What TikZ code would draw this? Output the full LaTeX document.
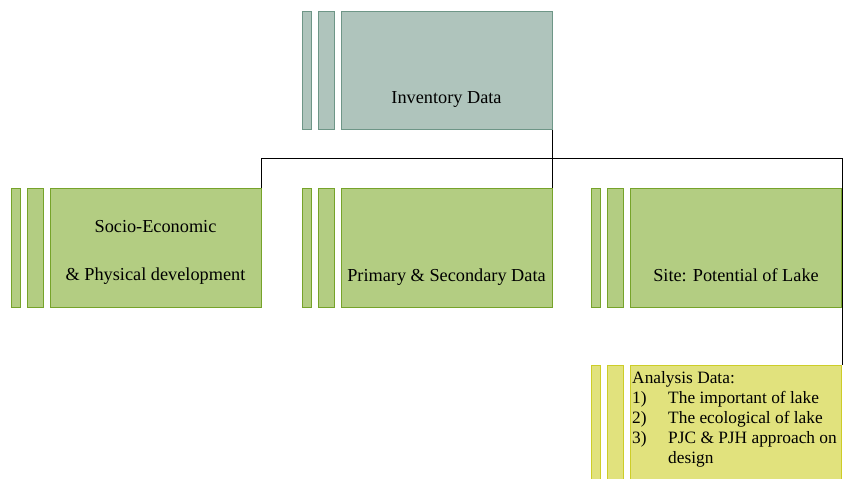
\documentclass[tikz,border=0pt]{standalone}
\usepackage{fontspec}
\setmainfont{Liberation Serif}
\usepackage{tikz}
\usetikzlibrary{positioning}
\definecolor{invfill}{RGB}{175,196,188}
\definecolor{invline}{RGB}{110,150,135}
\definecolor{grnfill}{RGB}{179,205,130}
\definecolor{grnline}{RGB}{118,163,42}
\definecolor{ylwfill}{RGB}{225,226,125}
\definecolor{ylwline}{RGB}{205,205,40}

\tikzset{
  card/.style={draw, line width=0.8pt, minimum width=6.33cm, minimum height=3.55cm, inner sep=0pt},
  strip/.style={draw, line width=0.8pt, minimum height=3.55cm, inner sep=0pt},
  boxtext/.style={font=\fontsize{15.6}{18}\selectfont, anchor=base, inner sep=0pt},
  listtext/.style={font=\fontsize{14.8}{17}\selectfont, anchor=base west, inner sep=0pt},
  wire/.style={draw=black, line width=0.8pt},
}

\begin{document}
\begin{tikzpicture}[x=0.03cm,y=-0.03cm]
  \useasboundingbox (0,0) rectangle (843,479);
  % main cards
  \node[card, fill=invfill, draw=invline] (inv) at (446.5,70.5) {};
  \node[card, fill=grnfill, draw=grnline] (soc) at (155.5,248) {};
  \node[card, fill=grnfill, draw=grnline] (prim) at (446.5,248) {};
  \node[card, fill=grnfill, draw=grnline] (site) at (736,248) {};
  \node[card, fill=ylwfill, draw=ylwline] (ana) at (736,425) {};
  % two thin strips in front of each card
  \foreach \c/\f/\l in {inv/invfill/invline, soc/grnfill/grnline, prim/grnfill/grnline,
                         site/grnfill/grnline, ana/ylwfill/ylwline} {
    \node[strip, fill=\f, draw=\l, minimum width=0.48cm, left=0.18cm of \c] (\c-b) {};
    \node[strip, fill=\f, draw=\l, minimum width=0.27cm, left=0.18cm of \c-b] (\c-a) {};
  }
  % card labels
  \node[boxtext] (inv-t) at (446.5,104) {Inventory Data};
  \node[boxtext] (soc-t1) at (155.5,232) {Socio-Economic};
  \node[boxtext] (soc-t2) at (155.5,280) {\& Physical development};
  \node[boxtext] (prim-t) at (446.5,281) {Primary \& Secondary Data};
  \node[boxtext] (site-t) at (736,281) {Site: Potential of Lake};
  % analysis list
  \node[listtext] (ana-h) at (632,383) {Analysis Data:};
  \foreach \n/\t [count=\i] in {1)/The important of lake, 2)/The ecological of lake,
                                3)/PJC \& PJH approach on, /design} {
    \node[listtext] (ana-n\i) at (632,383+20*\i) {\n};
    \node[listtext] (ana-t\i) at (668,383+20*\i) {\t};
  }
  % connectors
  \coordinate (bus) at (552,158.5);
  \draw[wire] (inv.south east) -- (prim.north east);
  \draw[wire] (soc.north east) |- (bus) -| (ana.north east);
\end{tikzpicture}
\end{document}
